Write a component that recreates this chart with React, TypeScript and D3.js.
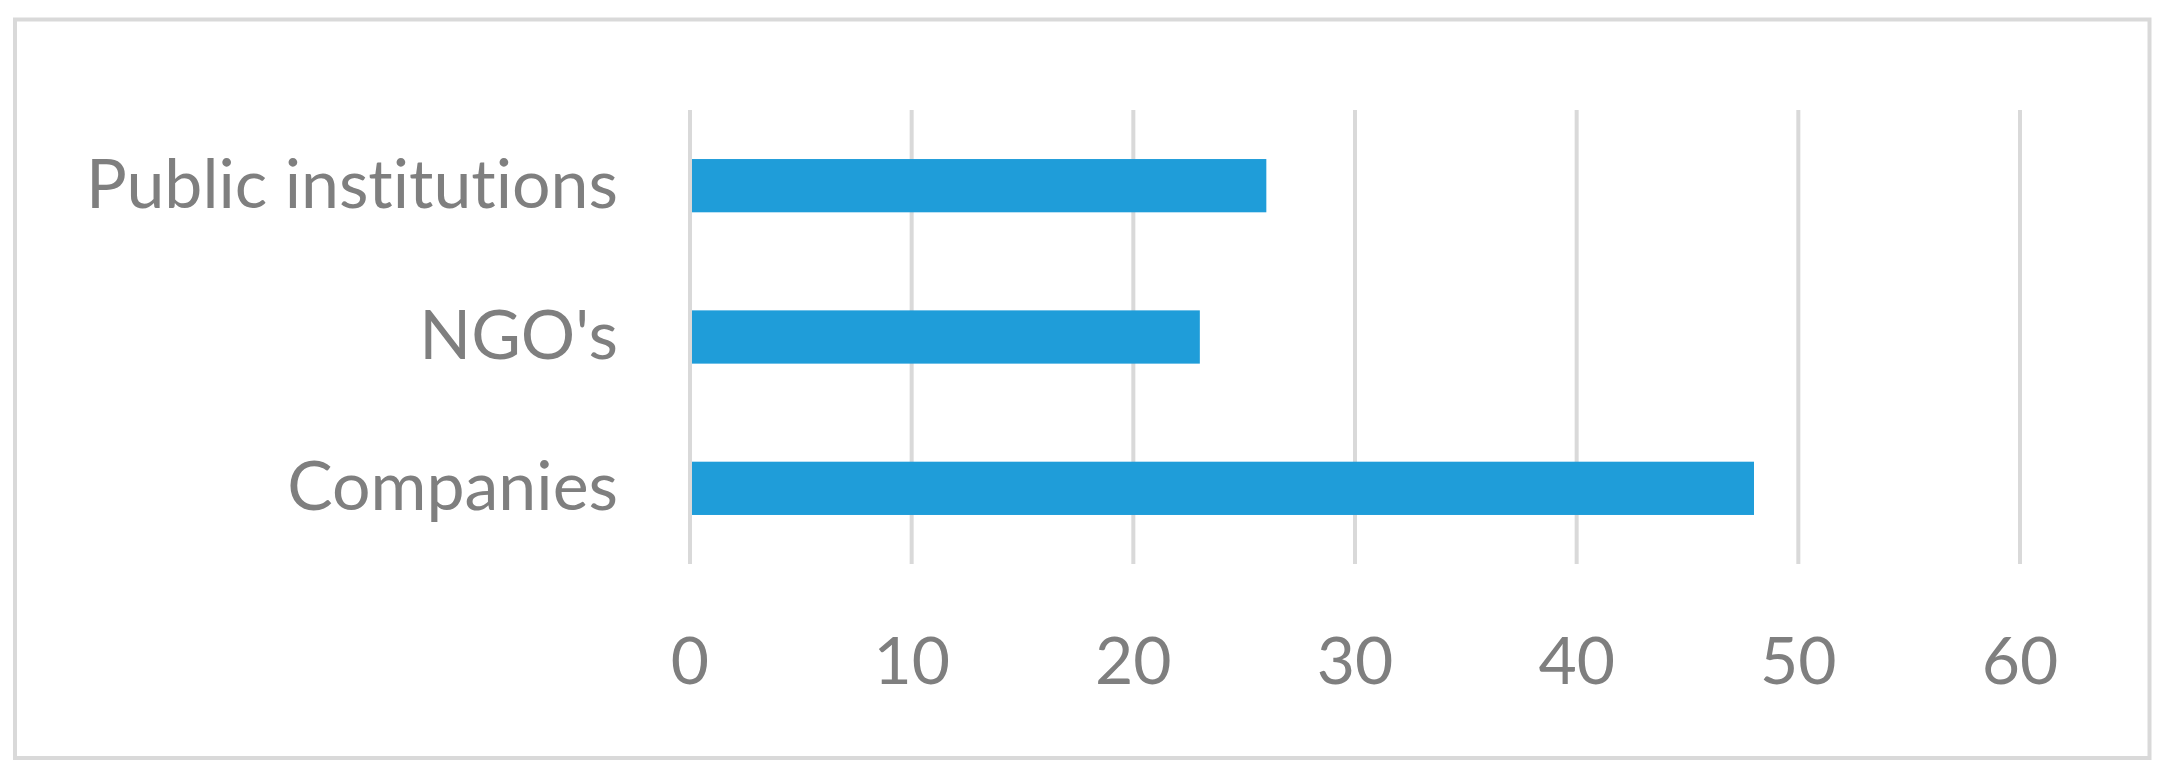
import React from "react";
import * as d3 from "d3";

const categories = ["Public institutions", "NGO's", "Companies"];
const values = [26, 23, 48];
const xTicks = [0, 10, 20, 30, 40, 50, 60];

const W = 2172;
const H = 777;
const TEXT = "#7F7F7F";
const GRID = "#D9D9D9";
const BAR = "#1F9DD9";
const FONT = "Lato, 'Open Sans', sans-serif";

export default function App() {
  const x = d3.scaleLinear().domain([0, 60]).range([690, 2020]);
  const y = d3
    .scaleBand<string>()
    .domain(categories)
    .range([110, 564])
    .paddingInner(0.648)
    .paddingOuter(0.324);
  const [y0, y1] = y.range();

  return (
    <svg
      width={W}
      height={H}
      style={{ position: "absolute", left: 0, top: 0, fontVariantLigatures: "none" }}
      fontFamily={FONT}
    >
      <rect x={0} y={0} width={W} height={H} fill="#FFFFFF" />
      <rect
        x={15}
        y={19.5}
        width={2134.5}
        height={738.5}
        fill="#FFFFFF"
        stroke={GRID}
        strokeWidth={4}
      />
      {xTicks.map((t) => (
        <line key={"g" + t} x1={x(t)} x2={x(t)} y1={y0} y2={y1} stroke={GRID} strokeWidth={4} />
      ))}
      {categories.map((c, i) => (
        <rect
          key={"b" + c}
          x={x(0)}
          y={y(c)}
          width={x(values[i]) - x(0)}
          height={y.bandwidth()}
          fill={BAR}
        />
      ))}
      <line x1={x(0)} x2={x(0)} y1={y0} y2={y1} stroke={GRID} strokeWidth={4} />
      {categories.map((c) => (
        <text
          key={"l" + c}
          x={x(0) - 72}
          y={(y(c) as number) + y.bandwidth() / 2 + 22}
          textAnchor="end"
          fontSize={68}
          fill={TEXT}
          style={{ fontVariantLigatures: "none", fontFeatureSettings: "'liga' 0, 'clig' 0" }}
        >
          {c}
        </text>
      ))}
      {xTicks.map((t) => (
        <text key={"t" + t} x={x(t)} y={684} textAnchor="middle" fontSize={66} fill={TEXT}>
          {t}
        </text>
      ))}
    </svg>
  );
}
